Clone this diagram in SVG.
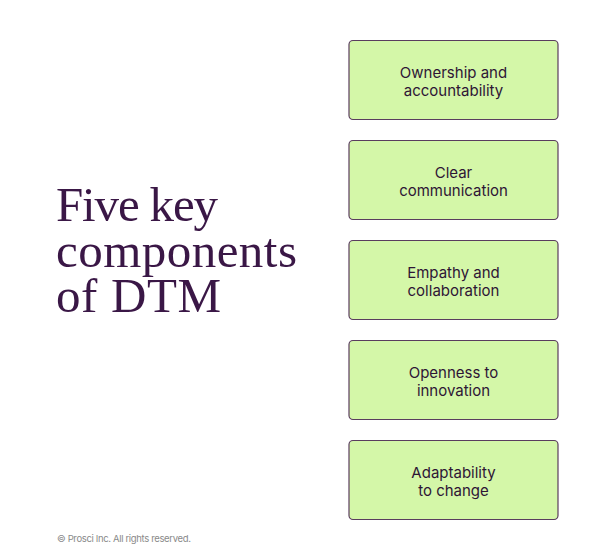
<svg xmlns="http://www.w3.org/2000/svg" width="600" height="560" viewBox="0 0 600 560">
<style>
.box{fill:#d4f7a8;stroke:#5a3d5e;stroke-width:1.2}
.lbl{font-family:Inter,"Liberation Sans",sans-serif;font-size:15px;fill:#2e1535;text-anchor:middle}
.title{font-family:"Liberation Serif",serif;font-size:49px;fill:#3a1746}
.foot{font-family:Inter,"Liberation Sans",sans-serif;font-size:9.5px;letter-spacing:-0.35px;fill:#8a8a8a}
</style>
<rect width="600" height="560" fill="#ffffff"/>
<g id="title">
<text class="title" x="56" y="221" textLength="162">Five key</text>
<text class="title" x="56" y="267" textLength="241">components</text>
<text class="title" x="56" y="312" textLength="165">of DTM</text>
</g>
<g id="node1"><rect class="box" x="349" y="40.5" width="209" height="79" rx="4"/><text class="lbl" x="453.5" y="78">Ownership and</text><text class="lbl" x="453.5" y="96">accountability</text></g>
<g id="node2"><rect class="box" x="349" y="140.5" width="209" height="79" rx="4"/><text class="lbl" x="453.5" y="178">Clear</text><text class="lbl" x="453.5" y="196">communication</text></g>
<g id="node3"><rect class="box" x="349" y="240.5" width="209" height="79" rx="4"/><text class="lbl" x="453.5" y="278">Empathy and</text><text class="lbl" x="453.5" y="296">collaboration</text></g>
<g id="node4"><rect class="box" x="349" y="340.5" width="209" height="79" rx="4"/><text class="lbl" x="453.5" y="378">Openness to</text><text class="lbl" x="453.5" y="396">innovation</text></g>
<g id="node5"><rect class="box" x="349" y="440.5" width="209" height="79" rx="4"/><text class="lbl" x="453.5" y="478">Adaptability</text><text class="lbl" x="453.5" y="496">to change</text></g>
<g id="connectors"></g>
<text class="foot" x="57" y="542">© Prosci Inc. All rights reserved.</text>
</svg>
